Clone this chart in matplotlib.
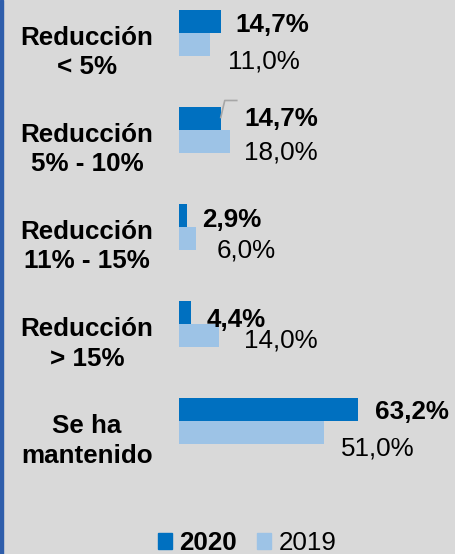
import matplotlib.pyplot as plt
import matplotlib.transforms as mtransforms
from matplotlib.patches import Patch, Rectangle

plt.rcParams['font.family'] = ['Liberation Sans', 'DejaVu Sans']

categorias = ['Reducción\n< 5%', 'Reducción\n5% - 10%', 'Reducción\n11% - 15%',
              'Reducción\n> 15%', 'Se ha\nmantenido']
valores_2020 = [14.7, 14.7, 2.9, 4.4, 63.2]
valores_2019 = [11.0, 18.0, 6.0, 14.0, 51.0]
series = ['2020', '2019']

# label offsets in pixels (dx right, dy down from bar centre to baseline)
off_2020 = [(15, 11), (24, 7.5), (15, 11.5), (15, 15), (17, 9.5)]
off_2019 = [(18, 24), (14, 18.5), (21, 19.5), (25, 12), (17, 22.5)]

azul = '#0070c0'
azul_claro = '#9dc3e6'
fondo = '#d9d9d9'
fs = 18.7

fig = plt.figure(figsize=(4.56, 5.54), dpi=100, facecolor=fondo)
ax = fig.add_axes([179 / 456, 0, 255.6 / 456, 1])
ax.set_facecolor(fondo)
ax.set_xlim(0, 90)
ax.set_ylim(5.371, -0.340)
ax.axis('off')

h = 23 / 97
pos = list(range(len(categorias)))
ax.barh([p - h / 2 for p in pos], valores_2020, height=h, color=azul)
ax.barh([p + h / 2 for p in pos], valores_2019, height=h, color=azul_claro)

def fmt(v):
    return f'{v:.1f}%'.replace('.', ',')

for i in pos:
    dx, dy = off_2020[i]
    ax.annotate(fmt(valores_2020[i]), (valores_2020[i], i - h / 2), xytext=(dx, -dy),
                textcoords='offset pixels', ha='left', va='baseline',
                fontsize=fs, fontweight='bold', color='black', annotation_clip=False)
    dx, dy = off_2019[i]
    ax.annotate(fmt(valores_2019[i]), (valores_2019[i], i + h / 2), xytext=(dx, -dy),
                textcoords='offset pixels', ha='left', va='baseline',
                fontsize=fs, color='black', annotation_clip=False)

# category labels
trans = mtransforms.blended_transform_factory(fig.transFigure, ax.transData)
for i, cat in enumerate(categorias):
    ax.text(87 / 456, i + 41.5 / 97, cat, transform=trans, ha='center', va='baseline',
            multialignment='center', fontsize=fs, fontweight='bold', linespacing=1.29)

# small leader line on the second group
fig.canvas.draw()
px, py = ax.transData.transform((valores_2020[1], 1 - h / 2))
ax.plot([px, px + 4, px + 16], [py + 1, py + 18, py + 18], color='#a6a6a6', lw=1.2,
        transform=mtransforms.IdentityTransform(), clip_on=False)

# left border
fig.patches.append(Rectangle((0, 0), 3 / 456, 1, transform=fig.transFigure,
                             color='#2f5eab', zorder=5))

handles = [Patch(color=azul), Patch(color=azul_claro)]
leg = fig.legend(handles, series, loc='lower center', bbox_to_anchor=(0.542, -0.002),
                 ncol=2, frameon=False, fontsize=fs, handlelength=0.55, handleheight=0.55,
                 handletextpad=0.27, columnspacing=0.77, borderpad=0, borderaxespad=0)
leg.get_texts()[0].set_fontweight('bold')

fig.savefig('out.png', dpi=100, facecolor=fondo)
